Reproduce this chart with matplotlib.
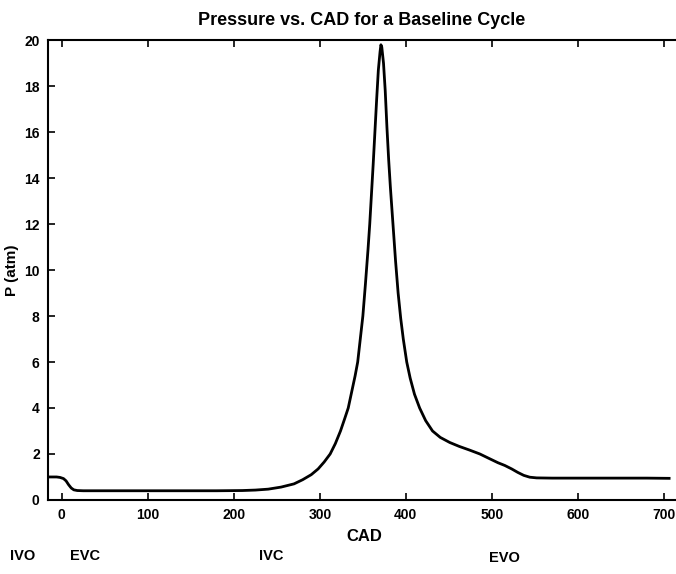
import numpy as np
import matplotlib
matplotlib.use("Agg")
import matplotlib.pyplot as plt

# crank angle (deg) and cylinder pressure (atm)
cad = [-16, -6, -2, 2, 5, 8, 11, 14, 18, 25, 60, 120, 180, 210, 225, 240, 255,
       270, 280, 290, 298, 305, 312, 318, 324, 329, 333, 337, 341, 344, 347, 350,
       353, 356, 358, 360, 362, 364, 366, 368, 370, 371, 372, 374, 376, 378, 380,
       382, 385, 388, 391, 394, 397, 401, 405, 410, 416, 423, 431, 440, 451, 462,
       474, 486, 497, 507, 515, 523, 530, 537, 544, 552, 570, 620, 680, 706]
pres = [1.00, 1.00, 0.98, 0.93, 0.83, 0.66, 0.52, 0.44, 0.41, 0.40, 0.40, 0.40,
        0.40, 0.41, 0.43, 0.47, 0.56, 0.70, 0.88, 1.10, 1.35, 1.65, 2.00, 2.45,
        3.00, 3.55, 4.00, 4.70, 5.40, 6.00, 7.00, 8.00, 9.40, 10.9, 12.0, 13.3,
        14.6, 16.0, 17.4, 18.7, 19.5, 19.8, 19.7, 19.0, 17.8, 16.2, 14.8, 13.6,
        12.0, 10.4, 9.00, 7.90, 7.00, 6.00, 5.30, 4.60, 4.00, 3.45, 3.00, 2.72,
        2.50, 2.33, 2.17, 2.00, 1.80, 1.62, 1.50, 1.35, 1.20, 1.07, 0.99, 0.96,
        0.95, 0.95, 0.95, 0.94]

xticks = [0, 100, 200, 300, 400, 500, 600, 700]
yticks = [0, 2, 4, 6, 8, 10, 12, 14, 16, 18, 20]
events = ["IVO", "EVC", "IVC", "EVO"]
event_cad = [-46, 27, 244, 515]

plt.rcParams['font.family'] = ['Liberation Sans', 'DejaVu Sans']
plt.rcParams['font.weight'] = 'bold'

fig = plt.figure(figsize=(6.76, 5.74), dpi=100)
ax = fig.add_axes([0.071, 0.129, 0.929, 0.801])

ax.plot(cad, pres, color="black", lw=2.0)

ax.set_xlim(-16, 714)
ax.set_ylim(0, 20)
ax.set_xticks(xticks)
ax.set_yticks(yticks)
ax.tick_params(direction="in", length=5, width=1.2, labelsize=10, top=True, pad=6)
ax.spines["right"].set_visible(False)
for s in ["left", "top", "bottom"]:
    ax.spines[s].set_linewidth(1.5)

ax.set_title("Pressure vs. CAD for a Baseline Cycle", fontsize=13, fontweight="bold", pad=11)
ax.set_ylabel("P (atm)", fontsize=11, fontweight="bold", labelpad=4)

trans = ax.get_xaxis_transform()
ax.text(352, -0.08, "CAD", transform=trans, ha="center", va="center",
        fontsize=12, fontweight="bold")
for name, xc in zip(events, event_cad):
    yy = -0.126 if name == "EVO" else -0.122
    ax.text(xc, yy, name, transform=trans, ha="center", va="center",
            fontsize=10.5, fontweight="bold")

fig.savefig("out.png", dpi=100)
